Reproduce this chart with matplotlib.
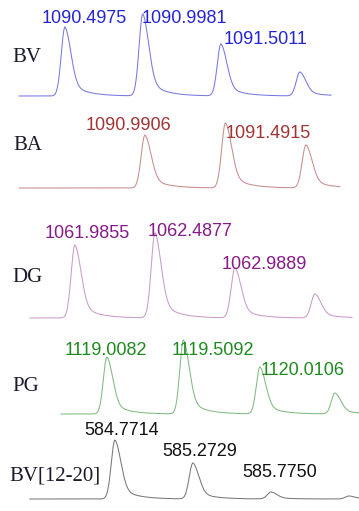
import numpy as np
import matplotlib
matplotlib.use('Agg')
from matplotlib import pyplot as plt

# panel names and colours
names = ['BV', 'BA', 'DG', 'PG', 'BV[12-20]']
text_cols = ['#2424d4', '#a33434', '#861a86', '#1f8a1f', '#111111']
line_cols = ['#7878e4', '#c88c8c', '#c99cc9', '#80ba80', '#787878']

# peak centres (m/z) and heights (relative intensity)
mz_bv = [1090.4975, 1090.9981, 1091.5011, 1092.009]
int_bv = [69, 82, 52, 24]
mz_ba = [1090.9906, 1091.4915, 1091.992]
int_ba = [53, 65, 43]
mz_dg = [1061.9855, 1062.4877, 1062.9889, 1063.4906]
int_dg = [73, 85, 50, 24]
mz_pg = [1119.0082, 1119.5092, 1120.0106, 1120.5021]
int_pg = [57, 74, 47, 21]
mz_bv12 = [584.7714, 585.2729, 585.7750, 586.2768]
int_bv12 = [59, 36, 7, 3]

# labelled peaks (how many from the left carry a label)
n_labels = [3, 2, 3, 3, 3]

# visible m/z window and the stretch that was recorded
xlims = [(1090.0793, 1092.3889), (1090.0889, 1092.3215), (1061.5152, 1063.7665),
         (1118.3072, 1120.6593), (584.0316, 586.3412)]
spans = [(1090.2015, 1092.209), (1090.2071, 1092.2033), (1061.7033, 1063.7227),
         (1118.7069, 1120.6593), (584.2246, 586.3412)]

centres = [mz_bv, mz_ba, mz_dg, mz_pg, mz_bv12]
heights = [int_bv, int_ba, int_dg, int_pg, int_bv12]

# layout (pixels from top)
baselines = [96, 188, 318, 414, 499]
name_pos = [(26.5, 57.5), (28, 146), (27.5, 277), (25.5, 386.5), (55, 475.5)]
label_off = [[(19.5, 8.5), (41.5, -4.5), (44.5, 4.5)],
             [(-16.5, 10), (42.5, -10)],
             [(12, 12), (34.5, 2), (29, 4)],
             [(-1, 7), (29, -10), (43, -3)],
             [(6.5, 9.5), (6.5, 11.5), (9, 20)]]

W, H = 359, 511


def peak_shape(x, c, h, wl=0.024, wr=0.038, tau=0.1):
    dx = x - c
    left = np.exp(-0.5 * (dx / wl) ** 2)
    right = 0.75 * np.exp(-0.5 * (dx / wr) ** 2) + 0.25 * np.exp(-np.clip(dx, 0, None) / tau)
    return h * np.where(dx < 0, left, right)


fig = plt.figure(figsize=(W / 100, H / 100), dpi=100)

for i in range(5):
    b = baselines[i]
    ax = fig.add_axes([0, (H - (b + 10)) / H, 1, 110 / H])
    ax.set_xlim(*xlims[i])
    ax.set_ylim(-10, 100)
    ax.axis('off')
    ax.patch.set_alpha(0)

    x = np.linspace(spans[i][0], spans[i][1], 2000)
    y = np.zeros_like(x)
    for c, h in zip(centres[i], heights[i]):
        y += peak_shape(x, c, h)
    ax.plot(x, y, color=line_cols[i], lw=0.75, solid_joinstyle='round')

    for k in range(n_labels[i]):
        ax.annotate('%.4f' % centres[i][k], xy=(centres[i][k], heights[i][k]),
                    xytext=label_off[i][k], textcoords='offset pixels',
                    ha='center', va='center', fontsize=13,
                    family='Liberation Sans', color=text_cols[i])

    nx, ny = name_pos[i]
    fig.text(nx / W, 1 - ny / H, names[i], ha='center', va='center',
             fontsize=15, family='Liberation Serif', color='#1a1a2a')

fig.savefig('out.png', dpi=100)
